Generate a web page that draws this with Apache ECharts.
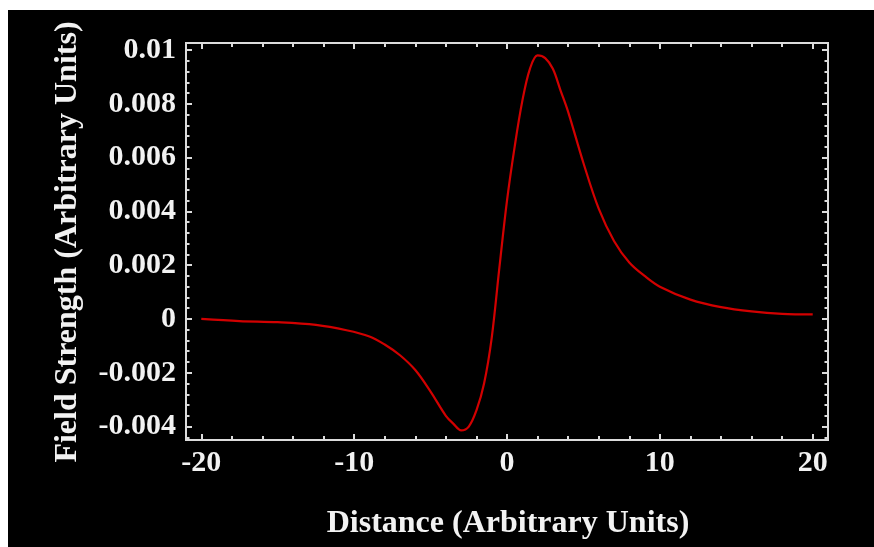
<!DOCTYPE html>
<html>
<head>
<meta charset="utf-8">
<script src="https://cdn.jsdelivr.net/npm/echarts@6/dist/echarts.min.js"></script>
<style>
html,body{margin:0;padding:0;background:#ffffff;width:874px;height:547px;overflow:hidden;}
#chart{position:absolute;left:8px;top:10px;width:866px;height:537px;}
</style>
</head>
<body>
<div id="chart"></div>
<script>
// Data
const distance = [-20, -17.5, -15, -12.5, -10.5, -9, -8, -7, -6, -5, -4, -3.5, -3, -2.5, -2, -1.5, -1, -0.5, 0, 0.5, 1, 1.5, 2, 2.5, 3, 3.5, 4, 5, 6, 7, 8, 9, 10, 12, 14, 16, 18, 20];
const fieldStrength = [0, -0.00008, -0.00012, -0.00022, -0.00042, -0.00065, -0.00095, -0.00135, -0.0019, -0.0027, -0.0036, -0.0039, -0.00414, -0.0040, -0.0034, -0.0024, -0.0007, 0.0019, 0.0044, 0.0064, 0.0081, 0.0093, 0.0098, 0.0097, 0.0093, 0.0085, 0.0077, 0.0058, 0.0041, 0.0029, 0.0021, 0.0016, 0.0012, 0.00072, 0.00044, 0.00028, 0.00019, 0.00017];
const xTickLabels = [-20, -10, 0, 10, 20];
const yTickLabels = [-0.004, -0.002, 0, 0.002, 0.004, 0.006, 0.008, 0.01];
const xMinorTicks = [-20, -18, -16, -14, -12, -10, -8, -6, -4, -2, 0, 2, 4, 6, 8, 10, 12, 14, 16, 18, 20];
const yMinorTicks = [];
for (let i = -11; i <= 25; i++) yMinorTicks.push(+(i * 0.0004).toFixed(4));
const xTitle = 'Distance (Arbitrary Units)';
const yTitle = 'Field Strength (Arbitrary Units)';

const X_MIN = -21, X_MAX = 21, Y_MIN = -0.0045, Y_MAX = 0.01026;
const frameColor = '#dcdcdc';
const font = '"Liberation Serif", "DejaVu Serif", serif';

const seriesData = distance.map((x, i) => [x, fieldStrength[i]]);

function xAxisDef(position, ticks, len, labels) {
  return {
    type: 'value', position: position, min: X_MIN, max: X_MAX,
    axisLine: { show: true, onZero: false, lineStyle: { color: frameColor, width: 2 } },
    axisTick: { show: true, inside: true, length: len, customValues: ticks, lineStyle: { color: frameColor, width: 2 } },
    axisLabel: labels ? { show: true, customValues: xTickLabels, color: '#f2f2f2', fontFamily: font, fontWeight: 'bold', fontSize: 30, margin: 8 } : { show: false },
    splitLine: { show: false }, minorTick: { show: false }
  };
}
function yAxisDef(position, ticks, len, labels) {
  return {
    type: 'value', position: position, min: Y_MIN, max: Y_MAX,
    axisLine: { show: true, onZero: false, lineStyle: { color: frameColor, width: 2 } },
    axisTick: { show: true, inside: true, length: len, customValues: ticks, lineStyle: { color: frameColor, width: 2 } },
    axisLabel: labels ? { show: true, customValues: yTickLabels, color: '#f2f2f2', fontFamily: font, fontWeight: 'bold', fontSize: 30, margin: 10,
      formatter: v => String(parseFloat((+v).toFixed(4))) } : { show: false },
    splitLine: { show: false }, minorTick: { show: false }
  };
}

const chart = echarts.init(document.getElementById('chart'), null, { renderer: 'canvas' });
chart.setOption({
  backgroundColor: '#000000',
  animation: false,
  grid: { left: 178, right: 46, top: 33, bottom: 107, containLabel: false },
  xAxis: [
    xAxisDef('bottom', xTickLabels, 6, true),
    xAxisDef('bottom', xMinorTicks, 4, false),
    xAxisDef('top', xTickLabels, 6, false),
    xAxisDef('top', xMinorTicks, 4, false)
  ],
  yAxis: [
    yAxisDef('left', yTickLabels, 6, true),
    yAxisDef('left', yMinorTicks, 3.5, false),
    yAxisDef('right', yTickLabels, 6, false),
    yAxisDef('right', yMinorTicks, 3.5, false)
  ],
  graphic: [
    { type: 'text', x: 500, y: 514, style: { text: xTitle, fill: '#f2f2f2', font: 'bold 32px ' + font, textAlign: 'center', textVerticalAlign: 'middle' } },
    { type: 'text', x: 60, y: 232, rotation: Math.PI / 2, style: { text: yTitle, fill: '#f2f2f2', font: 'bold 32px ' + font, textAlign: 'center', textVerticalAlign: 'middle' } }
  ],
  series: [{
    type: 'line', xAxisIndex: 0, yAxisIndex: 0, data: seriesData,
    smooth: 0.35, showSymbol: false, clip: true,
    lineStyle: { color: '#d20000', width: 2.2 }
  }]
});
</script>
</body>
</html>
